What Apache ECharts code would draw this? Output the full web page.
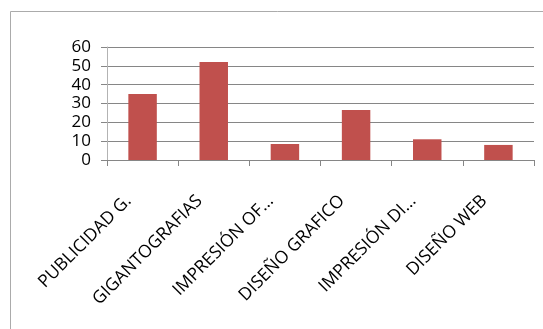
<!DOCTYPE html>
<html>
<head>
<meta charset="utf-8">
<script src="https://cdn.jsdelivr.net/npm/echarts@6/dist/echarts.min.js"></script>
<style>
  html, body { margin: 0; padding: 0; background: #fff; }
  #chart { width: 543px; height: 329px; }
</style>
</head>
<body>
<div id="chart"></div>
<script>
// Services and their values
const categories = ['PUBLICIDAD G.', 'GIGANTOGRAFIAS', 'IMPRESIÓN OF...', 'DISEÑO GRAFICO', 'IMPRESIÓN DI...', 'DISEÑO WEB'];
const values = [35, 52, 8.5, 26.5, 11, 8];
const yTicks = { min: 0, max: 60, interval: 10 };

const FONT = 'Open Sans';
const chart = echarts.init(document.getElementById('chart'));
chart.setOption({
  animation: false,
  backgroundColor: '#ffffff',
  graphic: [{
    type: 'rect',
    shape: { x: 10.5, y: 11.5, width: 700, height: 500 },
    style: { fill: 'none', stroke: '#ababab', lineWidth: 1 },
    silent: true
  }],
  grid: { left: 107, right: 9, top: 47, bottom: 169, containLabel: false },
  xAxis: {
    type: 'category',
    data: categories,
    boundaryGap: true,
    axisLine: { lineStyle: { color: '#868686', width: 1 } },
    axisTick: { show: true, alignWithLabel: false, length: 6, lineStyle: { color: '#868686' } },
    axisLabel: {
      interval: 0,
      rotate: 45,
      margin: 24,
      padding: [0, 20, 0, 0],
      color: '#000',
      fontFamily: FONT,
      fontSize: 17.5
    }
  },
  yAxis: {
    type: 'value',
    min: yTicks.min,
    max: yTicks.max,
    interval: yTicks.interval,
    axisLine: { show: true, lineStyle: { color: '#b3b3b3', width: 1 } },
    axisTick: { show: true, length: 6, inside: false, lineStyle: { color: '#868686' } },
    splitLine: { show: true, lineStyle: { color: '#868686', width: 1 } },
    axisLabel: {
      margin: 16,
      color: '#000',
      fontFamily: FONT,
      fontSize: 17
    }
  },
  series: [{
    type: 'bar',
    data: values,
    barWidth: '40%',
    itemStyle: { color: '#c0504d' }
  }]
});
</script>
</body>
</html>
